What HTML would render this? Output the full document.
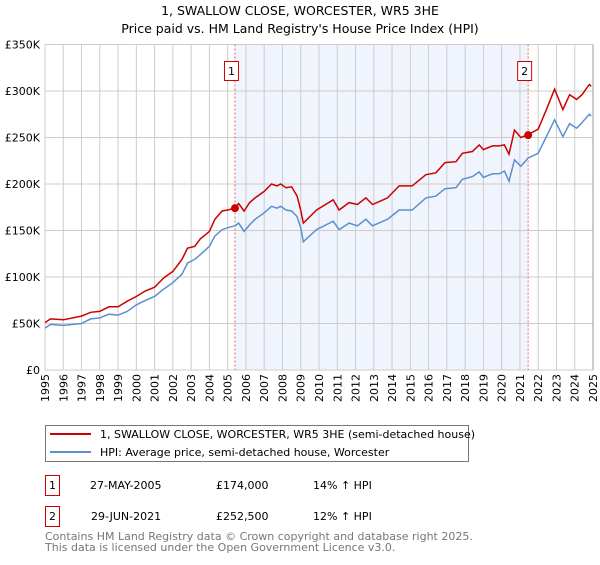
<!DOCTYPE html>
<html><head><meta charset="utf-8">
<style>
body{margin:0;background:#fff;font-family:"Liberation Sans","DejaVu Sans",sans-serif;}
svg text{font-family:"DejaVu Sans","Liberation Sans",sans-serif;}
</style></head>
<body>
<svg id="chart" width="600" height="560" xmlns="http://www.w3.org/2000/svg">
<text x="300" y="15" text-anchor="middle" font-size="12.5" fill="#000">1, SWALLOW CLOSE, WORCESTER, WR5 3HE</text>
<text x="300" y="33" text-anchor="middle" font-size="12.5" fill="#000">Price paid vs. HM Land Registry's House Price Index (HPI)</text>
<g id="plot"></g>
<g>
<rect x="45.5" y="425.5" width="423" height="36" fill="#fff" stroke="#777"/>
<line x1="50" y1="434" x2="91" y2="434" stroke="#cc0000" stroke-width="2"/>
<text x="100" y="438" font-size="11">1, SWALLOW CLOSE, WORCESTER, WR5 3HE (semi-detached house)</text>
<line x1="50" y1="452" x2="91" y2="452" stroke="#5b8fd0" stroke-width="2"/>
<text x="100" y="456" font-size="11">HPI: Average price, semi-detached house, Worcester</text>
</g>
<g font-size="11">
<rect x="45.5" y="475.5" width="14" height="20" fill="#fff" stroke="#cc0000"/>
<text x="52.5" y="489" text-anchor="middle">1</text>
<text x="90" y="489">27-MAY-2005</text><text x="216" y="489">£174,000</text><text x="313" y="489">14% ↑ HPI</text>
<rect x="45.5" y="506.5" width="14" height="20" fill="#fff" stroke="#cc0000"/>
<text x="52.5" y="520" text-anchor="middle">2</text>
<text x="91" y="520">29-JUN-2021</text><text x="216" y="520">£252,500</text><text x="313" y="520">12% ↑ HPI</text>
</g>
<text x="45" y="540" font-size="11" fill="#777">Contains HM Land Registry data © Crown copyright and database right 2025.</text>
<text x="45" y="551" font-size="11" fill="#777">This data is licensed under the Open Government Licence v3.0.</text>
</svg>
<script>
const hpiYears=[1995,1995.3,1996,1997,1997.5,1998,1998.5,1999,1999.5,2000,2000.5,2001,2001.5,2002,2002.5,2002.8,2003.2,2003.5,2004,2004.3,2004.7,2005,2005.4,2005.6,2005.9,2006.2,2006.5,2007,2007.4,2007.7,2007.9,2008.2,2008.5,2008.8,2009,2009.14,2009.87,2010.78,2011.1,2011.65,2012.1,2012.57,2012.93,2013.75,2014.39,2015.1,2015.85,2016.4,2016.9,2017.5,2017.85,2018.4,2018.77,2019.0,2019.5,2019.87,2020.15,2020.4,2020.7,2021.05,2021.45,2022.0,2022.45,2022.9,2023.35,2023.72,2024.1,2024.4,2024.8,2024.9];
const hpiValues=[45,49,48,50,55,56,60,59,63,70,75,79,87,94,103,115,119,124,133,144,151,153,155,158,149,156,162,169,176,174,176,172,171,165,153,138,151,160,151,158,155,162,155,162,172,172,185,187,195,196,205,208,213,207,211,211,214,203,226,219,228,233,251,269,251,265,260,266,275,273];
const priceValues=[51,55,54,58,62,63,68,68,74,79,85,89,99,106,119,131,133,141,149,162,171,172,174,179,171,180,185,192,200,198,200,196,197,187,172,158,172,183,172,180,178,185,178,185,198,198,210,212,223,224,233,235,242,237,241,241,242,232,258,250,253,259,280,302,280,296,291,296,307,305];
const saleYears=[2005.4,2021.45];
const saleValues=[174,252.5];
const saleLabels=["1","2"];
const yTicks=[0,50,100,150,200,250,300,350];
const yTickLabels=["£0","£50K","£100K","£150K","£200K","£250K","£300K","£350K"];
const xTicks=[1995,1996,1997,1998,1999,2000,2001,2002,2003,2004,2005,2006,2007,2008,2009,2010,2011,2012,2013,2014,2015,2016,2017,2018,2019,2020,2021,2022,2023,2024,2025];

const L=45,R=593,T=44.5,B=370;
const x=y=>L+(y-1995)/30*(R-L);
const yS=v=>B-v/350*(B-T);
const NS="http://www.w3.org/2000/svg";
const g=document.getElementById('plot');
function mk(t,a,p){const e=document.createElementNS(NS,t);for(const k in a)e.setAttribute(k,a[k]);(p||g).appendChild(e);return e;}

const shade=mk('rect',{x:x(saleYears[0]),y:T,width:x(saleYears[1])-x(saleYears[0]),height:B-T,fill:'#f0f4fd'});



xTicks.forEach(t=>{
 const l=mk('line',{x1:x(t),x2:x(t),y1:T,y2:B,stroke:'#cccccc','stroke-width':1});
 
 
 const tx=mk('text',{x:0,y:0,'font-size':11,'text-anchor':'end',transform:`translate(${x(t)+4},374) rotate(-90)`});
 tx.textContent=t;
 
 
});
yTicks.forEach((t,i)=>{
 const l=mk('line',{x1:L,x2:R,y1:yS(t),y2:yS(t),stroke:'#cccccc','stroke-width':1});
 
 
 const tx=mk('text',{x:40,y:yS(t)+4,'font-size':11,'text-anchor':'end'});
 tx.textContent=yTickLabels[i];
 
 
});
const rightAxis=mk('line',{x1:R,x2:R,y1:T,y2:B,stroke:'#999','stroke-width':1});



saleYears.forEach((s,i)=>{
 const l=mk('line',{x1:x(s),x2:x(s),y1:T,y2:B,stroke:'#ee6666','stroke-width':1,'stroke-dasharray':'2,2'});
 
 
 const r=mk('rect',{x:x(s)-10.5,y:61.5,width:14,height:19,fill:'#fff',stroke:'#cc0000'});
 
 
 const tx=mk('text',{x:x(s)-3.5,y:75,'font-size':11,'text-anchor':'middle'});
 tx.textContent=saleLabels[i];
 
 
});

const pts=(vals)=>hpiYears.map((yr,i)=>x(yr).toFixed(1)+','+yS(vals[i]).toFixed(1)).join(' ');
const hl=mk('polyline',{points:pts(hpiValues),fill:'none',stroke:'#5b8fd0','stroke-width':1.5});


const pl=mk('polyline',{points:pts(priceValues),fill:'none',stroke:'#cc0000','stroke-width':1.5});


saleYears.forEach((s,i)=>{
 const c=mk('circle',{cx:x(s),cy:yS(saleValues[i]),r:4,fill:'#cc0000'});
 
 
});
</script>
</body></html>
